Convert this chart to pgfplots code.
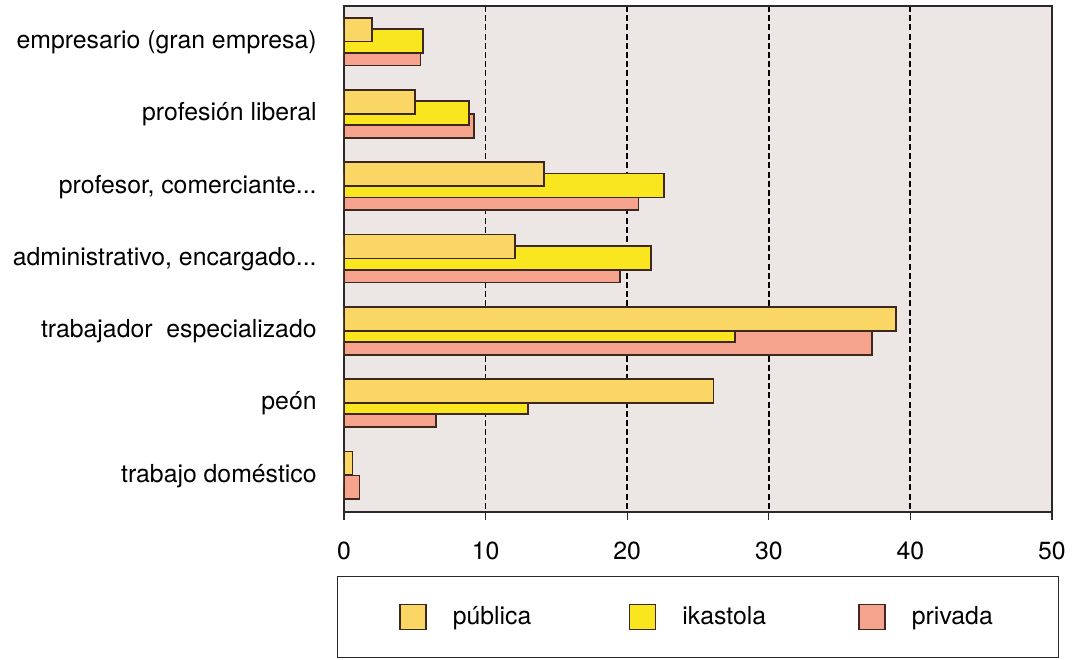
\documentclass[border=0pt]{standalone}
\usepackage{fontspec}
\setmainfont{TeX Gyre Heros}
\usepackage{pgfplots}
\usepackage{pgfplotstable}
\pgfplotsset{compat=1.18}

\definecolor{pubcol}{RGB}{250,214,100}
\definecolor{ikacol}{RGB}{250,230,30}
\definecolor{pricol}{RGB}{245,163,140}
\definecolor{barline}{RGB}{60,40,30}
\definecolor{bgcol}{RGB}{236,231,228}
\definecolor{axcol}{RGB}{45,40,40}

% categories top to bottom: 0 = empresario ... 6 = trabajo domestico
\pgfplotstableread{
cat pub  ika  pri
0   2.0  5.6  5.4
1   5.0  8.8  9.2
2   14.1 22.6 20.8
3   12.1 21.7 19.5
4   39.0 27.6 37.3
5   26.1 13.0 6.5
6   0.6  0.0  1.1
}\datatable

\begin{document}
\begin{tikzpicture}
\useasboundingbox (-172bp,-74bp) rectangle (364bp,256bp);
\begin{axis}[
    scale only axis,
    width=354bp, height=253bp,
    at={(0,0)}, anchor=south west,
    font=\fontsize{12.4bp}{14bp}\selectfont,
    /pgf/number format/assume math mode=true,
    axis background/.style={fill=bgcol},
    axis line style={draw=axcol, line width=0.75bp},
    xmin=0, xmax=50,
    xtick={0,10,20,30,40,50},
    xtick pos=bottom,
    tick align=outside,
    major tick length=4bp,
    xtick style={draw=axcol, line width=0.6bp},
    xmajorgrids,
    grid style={draw=black, line width=0.9bp, dash pattern=on 3bp off 1.6bp},
    xticklabel style={anchor=north, inner sep=0pt, yshift=-11bp},
    y dir=reverse,
    ymin=-0.5, ymax=6.5,
    ytick={0,1,2,3,4,5,6},
    yticklabels={empresario (gran empresa), profesión liberal, {profesor, comerciante.{}.{}.}, {administrativo, encargado.{}.{}.}, trabajador~ especializado, peón, trabajo doméstico},
    ytick style={draw=none},
    yticklabel style={anchor=east, inner sep=0pt, xshift=-9.5bp},
    legend columns=3,
    legend image code/.code={\draw[#1] (0bp,-6.25bp) rectangle (13bp,6.25bp);},
    legend style={at={(0.5,-0.1265)}, anchor=north, draw=axcol, line width=0.6bp,
        inner xsep=31bp, inner ysep=13bp,
        cells={anchor=west},
        /tikz/every odd column/.append style={column sep=11bp},
        /tikz/every even column/.append style={column sep=41bp}},
]
\addplot[xbar, bar width=0.33, bar shift=0.159, fill=pricol, draw=barline, line width=0.9bp, forget plot]
    table[x=pri, y=cat] {\datatable};
\addplot[xbar, bar width=0.33, bar shift=-0.017, fill=ikacol, draw=barline, line width=0.9bp, forget plot]
    table[x=ika, y=cat] {\datatable};
\addplot[xbar, bar width=0.33, bar shift=-0.173, fill=pubcol, draw=barline, line width=0.9bp, forget plot]
    table[x=pub, y=cat] {\datatable};
\addlegendimage{fill=pubcol, draw=barline, line width=0.8bp}
\addlegendimage{fill=ikacol, draw=barline, line width=0.8bp}
\addlegendimage{fill=pricol, draw=barline, line width=0.8bp}
\legend{\makebox[45bp][l]{pública}, \makebox[45bp][l]{ikastola}, privada}
\end{axis}
\end{tikzpicture}
\end{document}
